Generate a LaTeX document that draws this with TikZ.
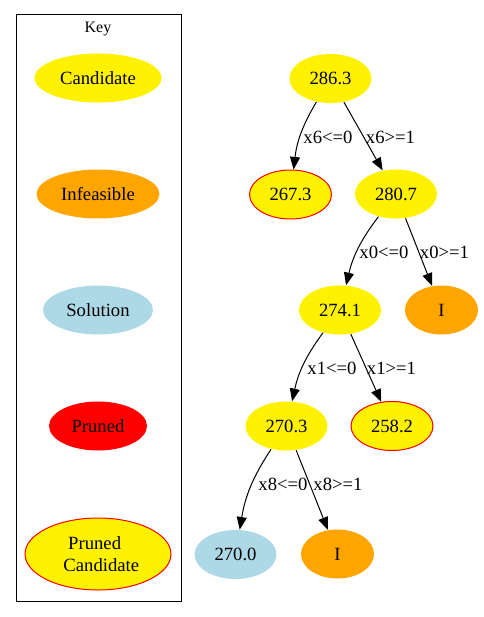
\documentclass[tikz,border=0pt]{standalone}
\usepackage{fontspec}
\setmainfont{Liberation Serif}
\usetikzlibrary{shapes.geometric, arrows.meta}
\definecolor{lightblue}{RGB}{173,216,230}
\definecolor{gvorange}{RGB}{255,165,0}
\tikzset{
	bbnode/.style={ellipse, inner sep=0pt, minimum width=61.5pt, minimum height=36.75pt, font=\fontsize{14}{16}\selectfont},
	cand/.style={bbnode, fill=yellow},
	prunedcand/.style={bbnode, fill=yellow, draw=red},
	infeas/.style={bbnode, fill=gvorange, minimum width=54.75pt},
	sol/.style={bbnode, fill=lightblue},
	pruned/.style={bbnode, fill=red},
	branch/.style={font=\fontsize{14}{16}\selectfont, inner sep=0pt},
}

\begin{document}
\begin{tikzpicture}[x=0.75pt, y=-0.75pt, line width=0.75pt, >={Triangle[length=9.5pt, width=7.5pt]}]
	\useasboundingbox (0,0) rectangle (483,617);
	% key
	\draw (16,15) rectangle (181,601);
	\node[font=\fontsize{12}{14}\selectfont] (key) at (98,29) {Key};
	\node[cand, minimum width=95.25pt] (k0) at (98,78) {Candidate};
	\node[infeas, minimum width=92.25pt] (k1) at (98,194) {Infeasible};
	\node[sol, minimum width=82.5pt] (k2) at (98,310) {Solution};
	\node[pruned, minimum width=73.5pt] (k3) at (98,426) {Pruned};
	\node[prunedcand, minimum width=109.5pt, minimum height=54pt, align=center] (k4) at (98,554) {Pruned\kern5pt\\\kern5pt Candidate};
	% tree
	\node[cand] (0) at (330.5,78.5) {286.3};
	\node[prunedcand] (1) at (290.5,194.5) {267.3};
	\node[cand] (2) at (396,194) {280.7};
	\node[cand] (3) at (340,310) {274.1};
	\node[infeas] (4) at (441.5,310) {I};
	\node[cand] (5) at (286.5,426) {270.3};
	\node[prunedcand] (6) at (392,426) {258.2};
	\node[sol] (7) at (235.5,554.5) {270.0};
	\node[infeas] (8) at (337.5,554) {I};
	\node[branch] (9) at (328,137) {x6<=0};
	\node[branch] (10) at (390.5,137) {x6>=1};
	\node[branch] (11) at (384,252) {x0<=0};
	\node[branch] (12) at (444.5,252) {x0>=1};
	\node[branch] (13) at (332,368) {x1<=0};
	\node[branch] (14) at (391.5,368) {x1>=1};
	\node[branch] (15) at (283,484) {x8<=0};
	\node[branch] (16) at (338,484) {x8>=1};
	\draw [->] (0) to[bend right=12] (1);
	\draw [->] (0) to (2);
	\draw [->] (2) to[bend right=12] (3);
	\draw [->] (2) to (4);
	\draw [->] (3) to[bend right=12] (5);
	\draw [->] (3) to (6);
	\draw [->] (5) to[bend right=12] (7);
	\draw [->] (5) to (8);
\end{tikzpicture}
\end{document}
